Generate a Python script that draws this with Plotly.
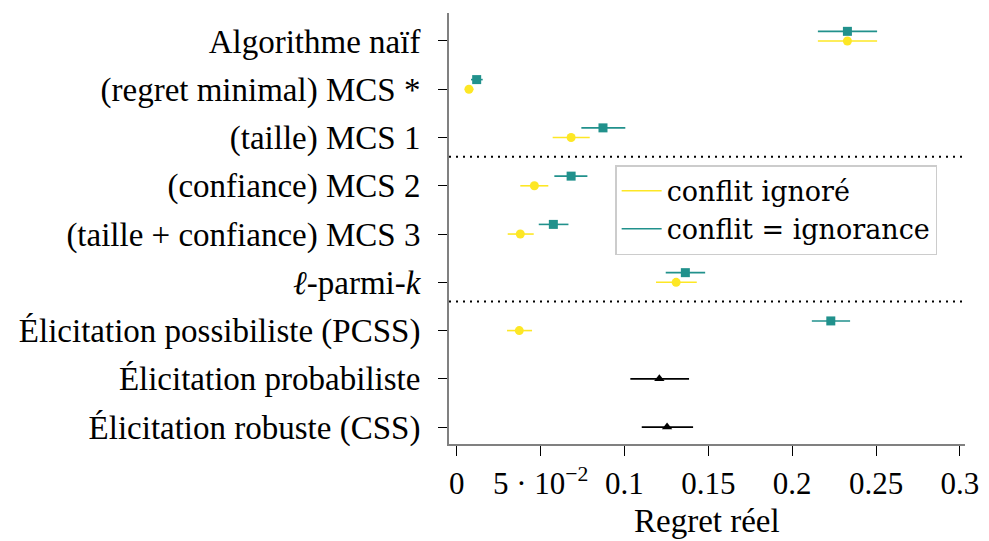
import plotly.graph_objects as go

categories = [
    "Algorithme naïf",
    "(regret minimal) MCS *",
    "(taille) MCS 1",
    "(confiance) MCS 2",
    "(taille + confiance) MCS 3",
    "<i>ℓ</i>-parmi-<i>k</i>",
    "Élicitation possibiliste (PCSS)",
    "Élicitation probabiliste",
    "Élicitation robuste (CSS)",
]

# conflit ignoré (yellow circles)
ign_cats = ["Algorithme naïf", "(regret minimal) MCS *", "(taille) MCS 1", "(confiance) MCS 2",
            "(taille + confiance) MCS 3", "<i>ℓ</i>-parmi-<i>k</i>", "Élicitation possibiliste (PCSS)"]
ign_mean = [0.2329, 0.0073, 0.0682, 0.0463, 0.0379, 0.1308, 0.0373]
ign_low = [0.2153, 0.0048, 0.0572, 0.0379, 0.0304, 0.1188, 0.0300]
ign_high = [0.2506, 0.0099, 0.0793, 0.0546, 0.0459, 0.1431, 0.0449]

# conflit = ignorance (teal squares)
ignc_cats = ign_cats
ignc_mean = [0.2329, 0.0119, 0.0872, 0.0682, 0.0576, 0.1363, 0.2230]
ignc_low = [0.2153, 0.0085, 0.0743, 0.0582, 0.0489, 0.1246, 0.2117]
ignc_high = [0.2506, 0.0155, 0.1005, 0.0779, 0.0666, 0.1481, 0.2345]

# elicitation (black triangles)
eli_cats = ["Élicitation probabiliste", "Élicitation robuste (CSS)"]
eli_mean = [0.1208, 0.1254]
eli_low = [0.1035, 0.1103]
eli_high = [0.1385, 0.1409]

x_tickvals = [0, 0.05, 0.1, 0.15, 0.2, 0.25, 0.3]
x_ticktext = ["0", "5 · 10<sup>−2</sup>", "0.1", "0.15", "0.2", "0.25", "0.3"]
x_title = "Regret réel"

separators = [5.6, 2.6]

YELLOW = "#fde725"
TEAL = "#21918c"
FONT = "Liberation Serif"
FS = 33

n = len(categories)
pos = {c: n - 1 - i for i, c in enumerate(categories)}


def ypos(cats, off=0.0):
    return [pos[c] + off for c in cats]


def errs(mean, low, high):
    return [h - m for m, h in zip(mean, high)], [m - l for m, l in zip(mean, low)]


fig = go.Figure()

p, m = errs(ign_mean, ign_low, ign_high)
fig.add_trace(go.Scatter(
    x=ign_mean, y=ypos(ign_cats), mode="markers", showlegend=False,
    marker=dict(symbol="circle", size=9, color=YELLOW),
    error_x=dict(type="data", array=p, arrayminus=m, color=YELLOW, thickness=1.6, width=0),
))
p, m = errs(ignc_mean, ignc_low, ignc_high)
fig.add_trace(go.Scatter(
    x=ignc_mean, y=ypos(ignc_cats, 0.2), mode="markers", showlegend=False,
    marker=dict(symbol="square", size=9, color=TEAL),
    error_x=dict(type="data", array=p, arrayminus=m, color=TEAL, thickness=1.6, width=0),
))
p, m = errs(eli_mean, eli_low, eli_high)
fig.add_trace(go.Scatter(
    x=eli_mean, y=ypos(eli_cats), mode="markers", showlegend=False,
    marker=dict(symbol="triangle-up", size=9, color="black"),
    error_x=dict(type="data", array=p, arrayminus=m, color="black", thickness=1.6, width=0),
))

# legend-only entries
fig.add_trace(go.Scatter(x=[None], y=[None], mode="lines", name="conflit ignoré",
                         line=dict(color=YELLOW, width=1.6)))
fig.add_trace(go.Scatter(x=[None], y=[None], mode="lines", name="conflit = ignorance",
                         line=dict(color=TEAL, width=1.6)))

for s in separators:
    fig.add_shape(type="line", xref="paper", x0=0, x1=1, yref="y", y0=s, y1=s,
                  line=dict(color="black", width=2, dash="2px,5px"))

# x-axis title placed as a paper annotation for exact vertical placement
fig.add_annotation(text=x_title, xref="paper", yref="paper", x=0.5, y=-0.179,
                   xanchor="center", yanchor="middle", showarrow=False,
                   font=dict(family=FONT, size=33, color="black"))

# page body has an 8px margin: size the figure so the plot area lands where the reference has it
fig.update_layout(
    width=981, height=533,
    margin=dict(l=441, r=24, t=5, b=97),
    paper_bgcolor="white", plot_bgcolor="white",
    font=dict(family=FONT, size=FS, color="black"),
    showlegend=True,
    legend=dict(x=0.322, y=0.647, xanchor="left", yanchor="top",
                bordercolor="#cccccc", borderwidth=1.5, bgcolor="white",
                font=dict(family="DejaVu Serif", size=27), tracegroupgap=0, itemwidth=40),
)
fig.update_xaxes(
    range=[-0.0046, 0.303], tickvals=x_tickvals, ticktext=x_ticktext,
    showgrid=False, zeroline=False, showline=True, linecolor="#808080", linewidth=2,
    ticks="outside", ticklen=10, tickcolor="black", tickwidth=1.3,
    tickfont=dict(size=31),
    ticklabelstandoff=1, automargin=False,
)
fig.update_yaxes(
    range=[-0.35, 8.58], tickvals=list(pos.values()), ticktext=list(pos.keys()),
    showgrid=False, zeroline=False, showline=True, linecolor="#808080", linewidth=2,
    ticks="outside", ticklen=9, tickcolor="black", tickwidth=1.3,
    ticklabelstandoff=11, automargin=False,
)

fig.write_html("out.html")
